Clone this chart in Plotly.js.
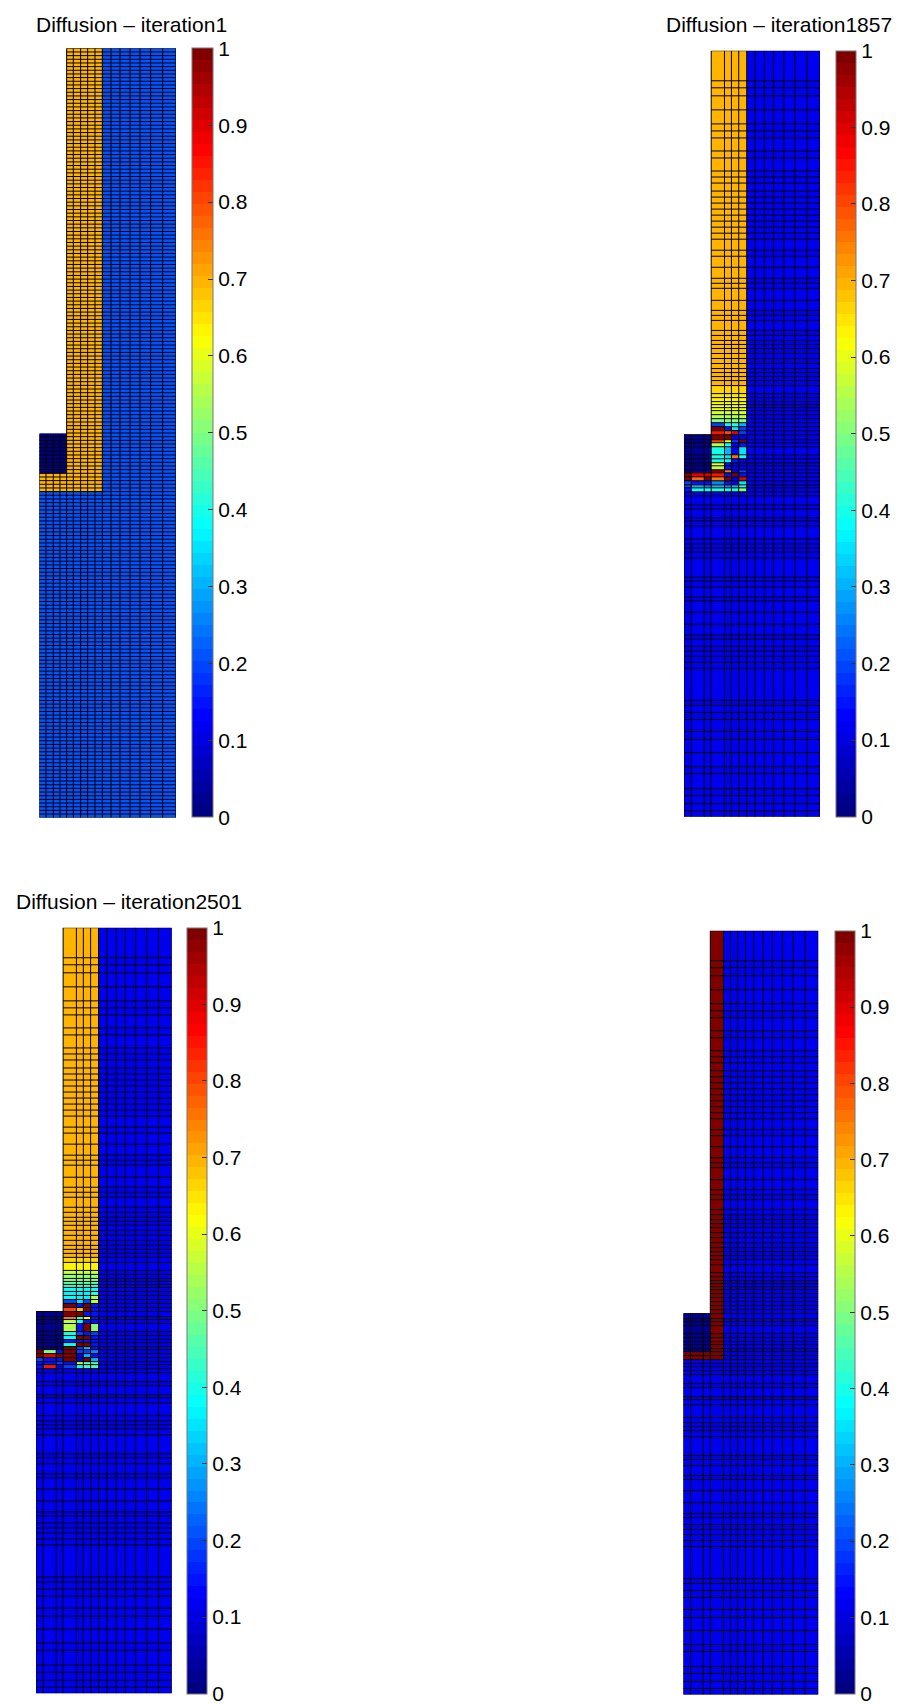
<!DOCTYPE html>
<html><head><meta charset="utf-8">
<script src="https://cdn.plot.ly/plotly-3.0.1.min.js"></script>
<style>html,body{margin:0;padding:0;background:#fff}#chart{width:899px;height:1704px}</style>
</head><body><div id="chart"></div>
<script>
// ---------------- data ----------------
const panelTitles = ['Diffusion – iteration1', 'Diffusion – iteration1857', 'Diffusion – iteration2501', ''];
const colorbarTickValues = [0, 0.1, 0.2, 0.3, 0.4, 0.5, 0.6, 0.7, 0.8, 0.9, 1];
const colorbarTickLabels = ['0', '0.1', '0.2', '0.3', '0.4', '0.5', '0.6', '0.7', '0.8', '0.9', '1'];

// domain geometry (physical units, depth measured downward from the top)
const domainWidth = 41;
const domainDepth = 764;
const notchX = 8.2;        // width of the empty top-left cut-out
const notchY = 383;        // depth of the cut-out
const blockBottomY = 421;  // bottom of the dark block under the cut-out
const channelRightX = 18.9;

// mesh A (iteration 1): column edges, uniform rows
const meshAx = [0, 2, 4.2, 6.2, 8.2, 10.2, 12.4, 14.5, 16.7, 18.9, 21.5, 24.2, 27.2, 30.2, 33.4, 37, 41];
const meshARowCount = 210;

// mesh B (later iterations): column and row edges
const meshBx = [0, 2.2, 6.1, 8.2, 12.2, 14.3, 16.5, 18.9, 21.4, 24.2, 27, 30.1, 33.4, 37, 41];
const meshBy = [0, 30, 37, 45, 59, 73, 80, 87, 100, 107, 120, 126, 132, 140, 146, 152, 158, 164, 170, 176,
  182, 188, 199, 205, 216, 227, 232, 237, 249, 259, 264, 269, 279, 284, 289, 293, 297, 302, 307, 312,
  317, 321, 325, 329, 334, 342, 346, 350, 353, 356, 359, 363, 367, 371, 375, 379, 383, 388, 391, 395,
  403, 407, 411, 414, 418, 421, 425, 429, 433, 436, 440, 444, 453, 457, 466, 469, 474, 487, 492, 496,
  500, 506, 525, 529, 535, 545, 549, 560, 572, 583, 587, 594, 599, 604, 610, 616, 648, 653, 660, 667,
  679, 687, 700, 714, 721, 736, 743, 751, 758, 764];

// panel 1 (iteration 1)
const p1Background = 0.21;
const p1Block = 0;
const p1Fills = [[8.2, 18.9, 0, 440, 0.7], [0, 8.2, 421, 440, 0.7]];

// panel 2 (iteration 1857)
const p2Background = 0.11;
const p2Block = 0.02;
const p2Fills = [[8.2, 18.9, 0, 440, 0.7]];
const p2GradientStartRow = 44;
const p2Gradient = [0.66, 0.65, 0.63, 0.62, 0.61, 0.6, 0.58, 0.55, 0.51];
const p2MixedStartRow = 53;
const p2Mixed = [
  [null, null, null, 0.2, 0.38, 0.4, 0.3],
  [null, null, null, 1.0, 0.15, 0.35, 0.2],
  [null, null, null, 0.85, 0.8, 0.9, 0.2],
  [null, null, null, 1.0, 1.0, 0.12, 0.12],
  [null, null, null, 0.8, 0.6, 0.2, 1.0],
  [null, null, null, 0.55, 0.38, 0.12, 0.15],
  [null, null, null, 0.4, 0.3, 0.12, 0.35],
  [null, null, null, 0.4, 0.35, 0.75, 0.4],
  [null, null, null, 0.38, 0.38, 0.15, 0.12],
  [null, null, null, 0.62, 0.15, 0.12, 0.12],
  [null, null, null, 0.55, 0.15, 0.12, 0.12],
  [null, null, null, 1.0, 0.75, 0.12, 0.2],
  [1.0, 0.9, 0.9, 0.85, 0.15, 1.0, 0.15],
  [1.0, 0.78, 1.0, 0.75, 1.0, 0.12, 0.9],
  [0.2, 0.15, 0.15, 0.25, 0.15, 0.12, 0.35],
  [0.2, 0.3, 0.25, 0.3, 0.25, 0.3, 0.4],
  [0.15, 0.4, 0.4, 0.42, 0.4, 0.42, 0.5]
];

// panel 3 (iteration 2501)
const p3Background = 0.11;
const p3Block = 0.02;
const p3Fills = [[8.2, 18.9, 0, 440, 0.7]];
const p3GradientStartRow = 43;
const p3Gradient = [0.66, 0.63, 0.57, 0.53, 0.5, 0.46, 0.42, 0.39];
const p3MixedStartRow = 51;
const p3Mixed = [
  [null, null, null, 0.37, 0.37, 0.37, 0.42],
  [null, null, null, 0.38, 0.36, 0.37, 0.55],
  [null, null, null, 0.2, 0.35, 0.2, 0.55],
  [null, null, null, 1.0, 0.15, 1.0, 0.15],
  [null, null, null, 0.8, 0.68, 1.0, 0.15],
  [null, null, null, 1.0, 1.0, 0.15, 0.15],
  [null, null, null, 0.75, 0.45, 0.6, 0.15],
  [null, null, null, 0.55, 0.38, 0.15, 0.15],
  [null, null, null, 0.55, 0.15, 1.0, 0.5],
  [null, null, null, 0.4, 0.2, 0.15, 0.2],
  [null, null, null, 0.38, 1.0, 1.0, 0.15],
  [null, null, null, 0.15, 0.15, 0.15, 0.15],
  [null, null, null, 0.38, 1.0, 1.0, 0.15],
  [null, null, null, 1.0, 0.2, 0.3, 0.15],
  [1.0, 0.5, 0.15, 1.0, 0.2, 0.2, 0.25],
  [1.0, 0.9, 1.0, 1.0, 0.12, 0.3, 0.15],
  [0.2, 0.15, 0.15, 1.0, 0.12, 1.0, 0.3],
  [0.15, 0.15, 0.2, 0.15, 0.55, 0.45, 0.45],
  [0.15, 0.85, 0.12, 0.2, 0.38, 0.45, 0.45]
];

// panel 4 (final state)
const p4Background = 0.11;
const p4Block = 0.02;
const p4Fills = [[8.2, 12.2, 0, 429, 1.0], [0, 8.2, 421, 429, 1.0]];

// ---------------- layout boxes (pixels) ----------------
const W = 899, H = 1704;
const plotBoxes = [[39.3, 176, 48.3, 817.7], [684, 820, 50.7, 816.7], [36, 171.7, 927.7, 1693.3], [683.3, 818.3, 930.7, 1694.5]];
const cbBoxes = [[191.7, 212.3, 48.3, 817.7], [836, 856, 50.7, 816.7], [187.3, 207.7, 927.7, 1693.5], [834.7, 855, 930.7, 1693.5]];
const titlePos = [[131, 24.3], [778.7, 25], [129.2, 901.7], [0, 0]];

// ---------------- helpers ----------------
function jetScale(n) {
  const cl = v => Math.max(0, Math.min(1, v));
  const sc = [];
  for (let k = 0; k < n; k++) {
    const t = k / (n - 1);
    const r = Math.round(255 * cl(1.5 - Math.abs(4 * t - 3)));
    const g = Math.round(255 * cl(1.5 - Math.abs(4 * t - 2)));
    const b = Math.round(255 * cl(1.5 - Math.abs(4 * t - 1)));
    const c = `rgb(${r},${g},${b})`;
    sc.push([k / n, c]);
    sc.push([(k + 1) / n, c]);
  }
  return sc;
}
const JET = jetScale(64);

function buildZ(xe, ye, p) {
  const z = [];
  for (let i = 0; i < ye.length - 1; i++) {
    const yc = (ye[i] + ye[i + 1]) / 2;
    const row = [];
    for (let j = 0; j < xe.length - 1; j++) {
      const xc = (xe[j] + xe[j + 1]) / 2;
      let v;
      if (xc < notchX && yc < notchY) v = null;
      else if (xc < notchX && yc < blockBottomY) v = p.block;
      else v = p.background;
      p.fills.forEach(f => { if (xc > f[0] && xc < f[1] && yc > f[2] && yc < f[3]) v = f[4]; });
      if (p.gradient && i >= p.gradientStart && i < p.gradientStart + p.gradient.length && xc > notchX && xc < channelRightX) {
        v = p.gradient[i - p.gradientStart];
      }
      if (p.mixed && i >= p.mixedStart && i < p.mixedStart + p.mixed.length) {
        const m = p.mixed[i - p.mixedStart][j];
        if (m !== undefined && m !== null) v = m;
      }
      row.push(v);
    }
    z.push(row);
  }
  return z;
}

function gridLines(xe, ye) {
  const xs = [], ys = [];
  xe.forEach(x => {
    const top = x < notchX - 1e-9 ? notchY : 0;
    xs.push(x, x, null); ys.push(top, domainDepth, null);
  });
  ye.forEach(y => {
    const left = y < notchY - 1e-9 ? notchX : 0;
    xs.push(left, domainWidth, null); ys.push(y, y, null);
  });
  return { xs, ys };
}

const meshAy = [];
for (let i = 0; i <= meshARowCount; i++) meshAy.push(domainDepth * i / meshARowCount);

const panels = [
  { xe: meshAx, ye: meshAy, p: { background: p1Background, block: p1Block, fills: p1Fills } },
  { xe: meshBx, ye: meshBy, p: { background: p2Background, block: p2Block, fills: p2Fills,
      gradient: p2Gradient, gradientStart: p2GradientStartRow, mixed: p2Mixed, mixedStart: p2MixedStartRow } },
  { xe: meshBx, ye: meshBy, p: { background: p3Background, block: p3Block, fills: p3Fills,
      gradient: p3Gradient, gradientStart: p3GradientStartRow, mixed: p3Mixed, mixedStart: p3MixedStartRow } },
  { xe: meshBx, ye: meshBy, p: { background: p4Background, block: p4Block, fills: p4Fills } }
];

const FONT = 'Liberation Sans, Arial, Helvetica, sans-serif';
const traces = [];
const layout = {
  width: W, height: H, margin: { l: 0, r: 0, t: 0, b: 0 },
  paper_bgcolor: '#fff', plot_bgcolor: '#fff', showlegend: false,
  font: { family: FONT, color: '#000' }, annotations: []
};

panels.forEach((pn, k) => {
  const sfx = k === 0 ? '' : String(k + 1);
  const pb = plotBoxes[k], cb = cbBoxes[k];
  layout['xaxis' + sfx] = { domain: [pb[0] / W, pb[1] / W], range: [0, domainWidth], visible: false, fixedrange: true, anchor: 'y' + sfx };
  layout['yaxis' + sfx] = { domain: [1 - pb[3] / H, 1 - pb[2] / H], range: [domainDepth, 0], visible: false, fixedrange: true, anchor: 'x' + sfx };
  traces.push({
    type: 'heatmap', x: pn.xe, y: pn.ye, z: buildZ(pn.xe, pn.ye, pn.p),
    xaxis: 'x' + sfx, yaxis: 'y' + sfx, colorscale: JET, zmin: 0, zmax: 1,
    zsmooth: false, hoverinfo: 'skip', showscale: true,
    colorbar: {
      x: cb[0] / W, xanchor: 'left', xpad: 0, y: 1 - cb[2] / H, yanchor: 'top', ypad: 0,
      len: cb[3] - cb[2], lenmode: 'pixels', thickness: cb[1] - cb[0], thicknessmode: 'pixels',
      outlinewidth: 1, outlinecolor: '#777', borderwidth: 0,
      tickmode: 'array', tickvals: colorbarTickValues, ticktext: colorbarTickLabels,
      ticks: 'inside', ticklen: 5, tickwidth: 1, tickcolor: '#333',
      ticklabeloverflow: 'allow',
      tickfont: { family: FONT, size: 21, color: '#000' }
    }
  });
  const g = gridLines(pn.xe, pn.ye);
  traces.push({
    type: 'scatter', mode: 'lines', x: g.xs, y: g.ys, xaxis: 'x' + sfx, yaxis: 'y' + sfx,
    line: { color: '#000', width: 1 }, hoverinfo: 'skip', connectgaps: false
  });
  if (panelTitles[k]) {
    layout.annotations.push({
      text: panelTitles[k], xref: 'paper', yref: 'paper',
      x: titlePos[k][0] / W, y: 1 - titlePos[k][1] / H, xanchor: 'center', yanchor: 'middle',
      showarrow: false, font: { family: FONT, size: 21, color: '#000' }
    });
  }
});

Plotly.newPlot('chart', traces, layout, { displayModeBar: false, staticPlot: true });
</script>
</body></html>
